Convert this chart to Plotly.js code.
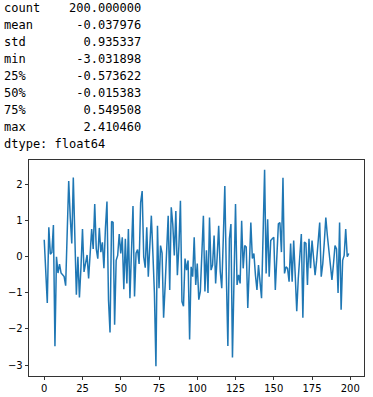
<!DOCTYPE html>
<html>
<head>
<meta charset="utf-8">
<script src="https://cdn.plot.ly/plotly-3.0.1.min.js"></script>
<style>
  html, body { margin: 0; padding: 0; background: #ffffff; width: 373px; height: 397px; overflow: hidden; }
  #chart { position: absolute; left: 0; top: 0; width: 373px; height: 397px; }
  #desc { position: absolute; left: 4px; top: 0px; margin: 0; z-index: 10;
          font-family: "DejaVu Sans Mono", "Liberation Mono", monospace; font-size: 12px;
          line-height: 17px; color: #000000; }
</style>
</head>
<body>
<div id="chart"></div>
<pre id="desc"></pre>
<script>
// Summary statistics shown above the plot
const statNames = ["count", "mean", "std", "min", "25%", "50%", "75%", "max"];
const statValues = ["200.000000", "-0.037976", "0.935337", "-3.031898", "-0.573622", "-0.015383", "0.549508", "2.410460"];
const dtypeLine = "dtype: float64";

// Series values (index 0..199)
const seriesValues = [
  0.47, -0.4, -1.28, 0.82, 0.07, 0.12, 0.88, -2.48, 0.0, -0.45,
  -0.2, -0.45, -0.5, -0.55, -0.8, 0.6, 2.1, 1.1, 0.37, 2.2,
  0.6, -1.05, 0.0, -1.13, -0.3, 0.77, -0.42, -0.15, 0.05, -0.6,
  0.2, 0.77, 0.22, 1.46, 0.22, -0.05, 0.8, 0.13, 0.4, -0.32,
  0.8, 1.53, -1.2, -2.1, 0.98, 0.95, -1.88, -0.1, 0.04, 0.63,
  0.09, 0.54, -0.9, 0.5, -0.74, 0.77, -1.15, 0.3, 1.41, -1.1,
  0.1, 0.2, -0.2, 1.5, 1.82, 0.0, -0.3, 0.82, -0.55, 0.3,
  1.14, 0.1, -1.0, -3.031898, 0.86, -0.87, 0.31, 0.1, -1.69, -0.8,
  0.3, 1.14, -0.92, 1.37, 0.9, 0.04, 1.27, -0.51, 0.3, 1.55,
  -1.24, -1.37, -0.05, -0.37, -0.1, -2.29, -0.28, -0.55, 0.54, -0.78,
  -0.19, -1.19, -0.96, 0.1, 1.14, -0.96, 0.18, -1.0, 1.09, -0.37,
  -0.23, 0.59, -0.74, 0.0, 0.86, -0.4, -0.87, 0.5, 1.96, -0.5,
  -2.47, 0.5, 0.91, -2.79, -0.3, 1.46, -0.78, -0.5, -0.74, 1.0,
  -0.32, 0.31, 0.27, -1.42, -0.3, 0.95, -0.05, 0.09, -0.5, -0.92,
  -0.23, -0.6, -1.15, 0.6, 2.41046, -0.46, 1.04, -0.55, 0.45, 0.5,
  0.54, -0.92, 0.0, 0.91, 0.95, 0.13, 2.19, -0.46, -0.28, -0.32,
  -0.69, 0.37, -0.69, 0.45, -0.5, -1.51, -0.6, 0.2, 0.63, -1.69,
  0.41, 0.37, -0.78, 0.5, -0.32, 0.45, 0.0, -0.51, -0.1, 0.4,
  0.95, -0.55, -0.2, 0.4, 1.09, 0.59, 0.2, -0.2, -0.64, -0.2,
  0.31, 0.22, -1.0, 0.95, -1.47, -0.1, 0.04, 0.77, 0.0, 0.09
];
const seriesIndex = seriesValues.map((_, i) => i);

const xTickVals = [0, 25, 50, 75, 100, 125, 150, 175, 200];
const yTickVals = [-3, -2, -1, 0, 1, 2];

// Build the describe() text block
const lines = statNames.map((n, i) => n.padEnd(5) + statValues[i].padStart(14));
lines.push(dtypeLine);
document.getElementById("desc").textContent = lines.join("\n");

const n = seriesValues.length;
const ymin = Math.min(...seriesValues), ymax = Math.max(...seriesValues);
const xpad = (n - 1) * 0.05, ypad = (ymax - ymin) * 0.05;

const trace = {
  x: seriesIndex,
  y: seriesValues,
  type: "scatter",
  mode: "lines",
  line: { color: "#1f77b4", width: 1.5 },
  hoverinfo: "skip"
};

const axisCommon = {
  showgrid: false,
  zeroline: false,
  showline: true,
  mirror: true,
  linecolor: "#000000",
  linewidth: 0.8,
  ticks: "outside",
  ticklen: 3.5,
  tickwidth: 0.8,
  tickcolor: "#000000",
  tickfont: { family: "DejaVu Sans", size: 10, color: "#000000" }
};

const layout = {
  width: 373,
  height: 397,
  margin: { l: 29, r: 9, t: 160, b: 21, pad: 0 },
  paper_bgcolor: "rgba(0,0,0,0)",
  plot_bgcolor: "#ffffff",
  showlegend: false,
  xaxis: Object.assign({}, axisCommon, {
    range: [-xpad, n - 1 + xpad],
    tickmode: "array",
    tickvals: xTickVals,
    ticktext: xTickVals.map(String)
  }),
  yaxis: Object.assign({}, axisCommon, {
    range: [ymin - ypad, ymax + ypad],
    tickmode: "array",
    tickvals: yTickVals,
    ticktext: yTickVals.map(v => v < 0 ? "\u2212" + Math.abs(v) : String(v))
  })
};

Plotly.newPlot("chart", [trace], layout, { staticPlot: true, displayModeBar: false });
</script>
</body>
</html>
